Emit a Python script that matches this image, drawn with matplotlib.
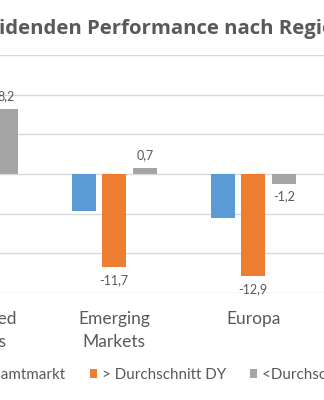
import matplotlib.pyplot as plt
import numpy as np

# data (German decimal comma in labels)
regions = ['Developed\nMarkets', 'Emerging\nMarkets', 'Europa']
gesamt = [3.1, -4.7, -5.6]
ueber_dy = [-2.4, -11.7, -12.9]
unter_dy = [8.2, 0.7, -1.2]
series_names = ['Gesamtmarkt', '> Durchschnitt DY', '<Durchschnitt DY']
colors = ['#5b9bd5', '#ed7d31', '#a5a5a5']
txt = '#595959'
title = 'Dividenden Performance nach Region'

plt.rcParams['font.family'] = ['Lato', 'DejaVu Sans']

fig = plt.figure(figsize=(3.24, 4), dpi=100)
# axes wider than the picture: the reference is a crop of a bigger chart
ax = fig.add_axes([-0.2907, 0.2675, 1.2907, 0.595])

x = np.arange(len(regions))
bw = 0.173
off = 0.2194
b1 = ax.bar(x - off, gesamt, width=bw, color=colors[0], label=series_names[0], zorder=3)
b2 = ax.bar(x, ueber_dy, width=bw, color=colors[1], label=series_names[1], zorder=3)
b3 = ax.bar(x + off, unter_dy, width=bw, color=colors[2], label=series_names[2], zorder=3)

fmt = lambda v: ('%.1f' % v).replace('.', ',')
ax.bar_label(b2, labels=[fmt(v) for v in ueber_dy], padding=5, fontsize=9, color=txt)
ax.bar_label(b3, labels=[fmt(v) for v in unter_dy], padding=5, fontsize=9, color=txt)

ax.set_ylim(-15, 15)
ax.set_yticks(np.arange(-15, 16, 5))
ax.yaxis.grid(True, color='#d9d9d9', linewidth=1, zorder=0)
ax.tick_params(axis='y', left=False, labelleft=False)
ax.set_xticks(x)
ax.set_xticklabels(regions, fontsize=12.5, color=txt, linespacing=1.5)
ax.tick_params(axis='x', length=0, pad=13)
ax.set_xlim(-0.5, 2.509)
for s in ax.spines.values():
    s.set_visible(False)

# title: only the middle part is visible in the crop
t = fig.text(0, 0.928, title, fontsize=11, fontweight='bold', family='Open Sans',
             color=txt, ha='left', va='center')
r = fig.canvas.get_renderer()
t.set_text('idenden Performance nach Regi')
w = t.get_window_extent(r).width
t.set_fontsize(11 * 324 / w)
t.set_text('Div')
lead = t.get_window_extent(r).width
t.set_text(title)
t.set_x(-(lead + 1) / 324)

fig.legend(handles=[b1, b2, b3], labels=series_names, loc='center',
           bbox_to_anchor=(0.534, 0.0625), ncol=3, frameon=False, fontsize=10.9,
           labelcolor=txt, handlelength=0.46, handleheight=0.46, handletextpad=0.33,
           columnspacing=1.59)

fig.savefig('out.png', dpi=100)
